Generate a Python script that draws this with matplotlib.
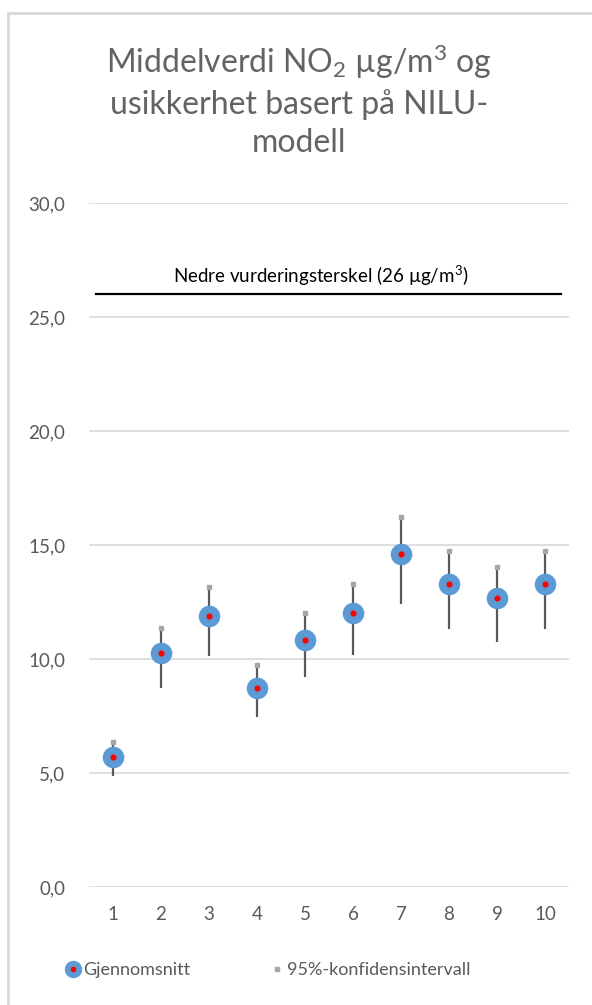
import matplotlib
matplotlib.use("Agg")
import matplotlib.pyplot as plt
from matplotlib.lines import Line2D
from matplotlib.legend_handler import HandlerTuple

plt.rcParams['font.family'] = ['Lato', 'DejaVu Sans']
plt.rcParams['mathtext.fontset'] = 'custom'
plt.rcParams['mathtext.rm'] = 'Lato'
plt.rcParams['mathtext.it'] = 'Lato:italic'

categories = [1, 2, 3, 4, 5, 6, 7, 8, 9, 10]
mean_vals = [5.7, 10.26, 11.9, 8.74, 10.82, 12.0, 14.6, 13.3, 12.68, 13.3]
ci_upper = [6.37, 11.37, 13.17, 9.75, 12.0, 13.29, 16.21, 14.75, 14.02, 14.75]
ci_lower = [4.87, 8.71, 10.13, 7.47, 9.22, 10.18, 12.41, 11.3, 10.73, 11.3]
threshold = 26
threshold_label = "Nedre vurderingsterskel (26 µg/m$^3$)"
y_ticks = [0, 5, 10, 15, 20, 25, 30]
y_ticklabels = ["0,0", "5,0", "10,0", "15,0", "20,0", "25,0", "30,0"]

W, H = 592, 1005
fig = plt.figure(figsize=(W / 100, H / 100), dpi=100)
ax = fig.add_axes([89 / W, 1 - 887 / H, (569 - 89) / W, (887 - 203) / H])

grey_txt = '#595959'
ax.set_ylim(0, 30)
ax.set_xlim(0.5, 10.5)
ax.set_yticks(y_ticks)
ax.set_yticklabels(y_ticklabels)
ax.set_xticks(categories)
ax.set_xticklabels([str(c) for c in categories])
ax.grid(axis='y', color='#d9d9d9', linewidth=1.2)
ax.set_axisbelow(True)
for s in ax.spines.values():
    s.set_visible(False)
ax.tick_params(length=0, labelsize=13.5, labelcolor=grey_txt)
ax.tick_params(axis='y', pad=17)
ax.tick_params(axis='x', pad=14)

# threshold line
ax.plot([0.65, 10.33], [threshold, threshold], color='black', linewidth=1.6, zorder=2)
ax.text(5.33, threshold + 0.25, threshold_label, ha='center', va='bottom',
        fontsize=13.5, color='black')

# confidence interval lines
ax.vlines(categories, ci_lower, ci_upper, color='#595959', linewidth=1.6, zorder=3)
ax.plot(categories, ci_upper, linestyle='none', marker='s', markersize=3.2,
        markerfacecolor='#a6a6a6', markeredgecolor='#a6a6a6', zorder=4)
# mean markers
ax.plot(categories, mean_vals, linestyle='none', marker='o', markersize=14.5,
        markerfacecolor='#5b9bd5', markeredgecolor='#5b9bd5', zorder=5)
ax.plot(categories, mean_vals, linestyle='none', marker='o', markersize=3.4,
        markerfacecolor='#ff0000', markeredgecolor='#ff0000', zorder=6)

# title
fig.text(0.505, 1 - 100 / H,
         "Middelverdi NO$_2$ µg/m$^3$ og\nusikkerhet basert på NILU-\nmodell",
         ha='center', va='center', fontsize=23, color='#636363', linespacing=1.33)

# legend
h1 = (Line2D([], [], linestyle='none', marker='o', markersize=11.5,
             markerfacecolor='#5b9bd5', markeredgecolor='#5b9bd5'),
      Line2D([], [], linestyle='none', marker='o', markersize=3.0,
             markerfacecolor='#ff0000', markeredgecolor='#ff0000'))
h2 = Line2D([], [], linestyle='none', marker='s', markersize=3.2,
            markerfacecolor='#a6a6a6', markeredgecolor='#a6a6a6')
leg = fig.legend([h1, h2], ["Gjennomsnitt", "95%-konfidensintervall"],
                 handler_map={tuple: HandlerTuple(ndivide=1, pad=0)},
                 loc='center', bbox_to_anchor=(269 / W, 1 - 970 / H), ncol=2,
                 frameon=False, fontsize=13, handlelength=0.6, handletextpad=0.25,
                 columnspacing=4.5, labelcolor=grey_txt)

# chart border (left and top)
fig.add_artist(Line2D([8 / W, 8 / W], [0, 1 - 13 / H], transform=fig.transFigure,
                      color='#d9d9d9', linewidth=2))
fig.add_artist(Line2D([8 / W, 1], [1 - 13 / H, 1 - 13 / H], transform=fig.transFigure,
                      color='#d9d9d9', linewidth=2))

fig.savefig("out.png", dpi=100)
